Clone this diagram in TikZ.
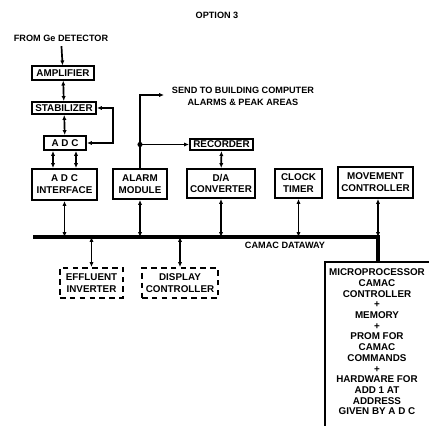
\documentclass[tikz,border=0pt]{standalone}
\usepackage{fontspec}
\setmainfont{Liberation Sans}
\usetikzlibrary{arrows.meta}
\tikzset{
	blk/.style={draw, line width=1.4pt, align=center, inner sep=1pt, font=\fontsize{7}{8.5}\selectfont\bfseries},
	dblk/.style={blk, dash pattern=on 4pt off 3pt},
	lbl/.style={font=\fontsize{6.5}{9}\selectfont\bfseries, align=center},
	link/.style={line width=1.2pt, {Latex[length=3.5pt,width=3pt]}-{Latex[length=3.5pt,width=3pt]}},
	feed/.style={line width=1.2pt, -{Latex[length=3.5pt,width=3pt]}},
	bus/.style={line width=2.8pt},
}
\begin{document}
\begin{tikzpicture}[x=0.025cm, y=-0.025cm]
				\useasboundingbox (0,0) rectangle (429,426);
				\node[lbl] (title) at (217,15) {OPTION 3};
				
				% detector chain
				\node[lbl] (src) at (61,38) {FROM Ge DETECTOR};
				\node[blk, minimum width=1.55cm, minimum height=0.33cm] (amp) at (63,73) {AMPLIFIER};
				\node[blk, minimum width=1.6cm, minimum height=0.3cm] (stab) at (64,108) {STABILIZER};
				\node[blk, minimum width=1.05cm, minimum height=0.35cm] (adc) at (65,143) {A D C};
				\node[blk, minimum width=1.625cm, minimum height=0.775cm] (adcif) at (64.5,184.5) {A D C\\INTERFACE};
				\draw[feed] (src) -- (amp);
				\draw[link] (amp) -- (stab);
				\draw[link] (stab) -- (adc);
				\draw[link] ([xshift=-0.3cm]adc.south) -- ([xshift=-0.3cm]adc.south |- adcif.north);
				\draw[link] ([xshift=0.275cm]adc.south) -- ([xshift=0.275cm]adc.south |- adcif.north);
				\coordinate (fb) at (113,108);
				\draw[link] (stab.east) -- (fb) |- (adc.east);
				
				% alarm and recorder
				\node[blk, minimum width=1.35cm, minimum height=0.75cm] (alarm) at (140,184) {ALARM\\MODULE};
				\node[blk, minimum width=1.575cm, minimum height=0.28cm] (rec) at (221.5,144.5) {RECORDER};
				\node[blk, minimum width=1.7cm, minimum height=0.725cm] (dac) at (221,183.5) {D/A\\CONVERTER};
				\node[lbl] (send) at (243,96.5) {SEND TO BUILDING COMPUTER\\ALARMS \& PEAK AREAS};
				\coordinate (alarmtop) at (140,95);
				\coordinate (sendto) at (164,95);
				\draw[feed] (alarm.north) -- (alarmtop) -- (sendto);
				\fill (alarm.north |- rec) circle (1.8pt);
				\draw[feed] (alarm.north |- rec) -- (rec.west);
				\draw[link] (rec) -- (dac);
				
				% other modules
				\node[blk, minimum width=1.175cm, minimum height=0.725cm] (clock) at (298.5,183.5) {CLOCK\\TIMER};
				\node[blk, minimum width=1.875cm, minimum height=0.775cm] (move) at (375.5,182.5) {MOVEMENT\\CONTROLLER};
				\node[dblk, minimum width=1.575cm, minimum height=0.75cm] (efflu) at (91.5,283) {EFFLUENT\\INVERTER};
				\node[dblk, minimum width=1.9cm, minimum height=0.75cm] (disp) at (180,283) {DISPLAY\\CONTROLLER};
				
				% camac dataway
				\coordinate (busL) at (33,237);
				\coordinate (mtop) at (378,262);
				\draw[bus] (busL) -| (mtop);
				\node[lbl] (dataway) at (285,245) {CAMAC DATAWAY};
				\draw[link] (adcif.south) -- (adcif.south |- busL);
				\draw[link] (alarm.south) -- (alarm.south |- busL);
				\draw[link] (dac.south) -- (dac.south |- busL);
				\draw[link] (clock.south) -- (clock.south |- busL);
				\draw[link] (move.south -| mtop) -- (mtop |- busL);
				\draw[link] (efflu.north |- busL) -- (efflu.north);
				\draw[link] (disp.north |- busL) -- (disp.north);
				
				% microprocessor
				\draw[line width=1.4pt] (325,440) |- (440,262);
				\node[anchor=north, align=center, font=\fontsize{7}{7.6}\selectfont\bfseries] (micro) at (377,264)
					{MICROPROCESSOR\\CAMAC\\CONTROLLER\\+\\MEMORY\\+\\PROM FOR\\CAMAC\\COMMANDS\\+\\HARDWARE FOR\\ADD 1 AT\\ADDRESS\\GIVEN BY A D C};
\end{tikzpicture}
\end{document}
